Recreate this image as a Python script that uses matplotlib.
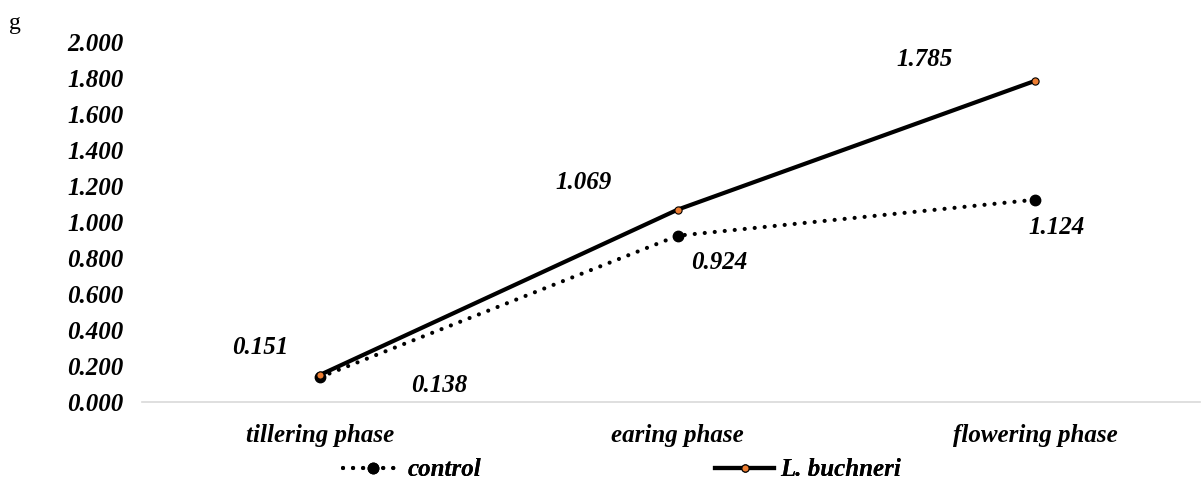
import matplotlib.pyplot as plt
from matplotlib.lines import Line2D

# Data
phases = ['tillering phase', 'earing phase', 'flowering phase']
control = [0.138, 0.924, 1.124]
buchneri = [0.151, 1.069, 1.785]
yticks = [0.0, 0.2, 0.4, 0.6, 0.8, 1.0, 1.2, 1.4, 1.6, 1.8, 2.0]

plt.rcParams['font.family'] = ['Liberation Serif', 'DejaVu Serif']
font = dict(fontsize=18, fontweight='bold', fontstyle='italic')

W, H = 1202, 482
fig = plt.figure(figsize=(W / 100, H / 100), dpi=100)
ax = fig.add_axes([142 / W, 1 - 402 / H, (1200 - 142) / W, 360 / H])

ctl_style = dict(color='black', linestyle=(0, (0.01, 2.4)), linewidth=3.0,
                 dash_capstyle='round', marker='o', markersize=7.5,
                 markerfacecolor='black', markeredgecolor='black')
buc_style = dict(color='black', linestyle='-', linewidth=3.0, marker='o',
                 markersize=5.2, markerfacecolor='#ED7D31',
                 markeredgecolor='black', markeredgewidth=0.8)

x = list(range(len(phases)))
ax.plot(x, control, zorder=3, **ctl_style)
ax.plot(x, buchneri, zorder=4, **buc_style)

# data labels (offsets in points)
ctl_off = [(86, -6), (30, -19.5), (15, -20)]
buc_off = [(-43, 19.5), (-68, 19.5), (-80, 15)]
for xi, v, (dx, dy) in zip(x, control, ctl_off):
    ax.annotate(f'{v:.3f}', (xi, v), xytext=(dx, dy), textcoords='offset points',
                ha='center', va='center', **font)
for xi, v, (dx, dy) in zip(x, buchneri, buc_off):
    ax.annotate(f'{v:.3f}', (xi, v), xytext=(dx, dy), textcoords='offset points',
                ha='center', va='center', **font)

ax.set_xlim(-0.498, 2.46)
ax.set_ylim(0, 2.0)
ax.set_yticks(yticks)
ax.set_yticklabels([f'{t:.3f}' for t in yticks], **font)
ax.set_xticks(x)
ax.set_xticklabels(phases, **font)
ax.tick_params(axis='both', length=0)
ax.tick_params(axis='y', pad=13.5)
ax.tick_params(axis='x', pad=16)
for s in ['top', 'right', 'left']:
    ax.spines[s].set_visible(False)
ax.spines['bottom'].set_color('#D9D9D9')
ax.spines['bottom'].set_linewidth(1.2)
ax.spines['bottom'].set_zorder(0)

fig.text(15 / W, 1 - 23 / H, 'g', fontsize=17, va='center', ha='center')

# legend entries placed separately
legprop = dict(size=18, weight='bold', style='italic')
for style, name, xs in [(ctl_style, 'control', 343), (buc_style, 'L. buchneri', 715)]:
    h = Line2D([], [], **style)
    leg = fig.legend([h], [name], loc='center left',
                     bbox_to_anchor=(xs / W, 1 - 470 / H), frameon=False,
                     prop=legprop, handlelength=2.36, handletextpad=0.24,
                     borderpad=0, borderaxespad=0)
    fig.add_artist(leg)

fig.savefig('out.png', dpi=100)
